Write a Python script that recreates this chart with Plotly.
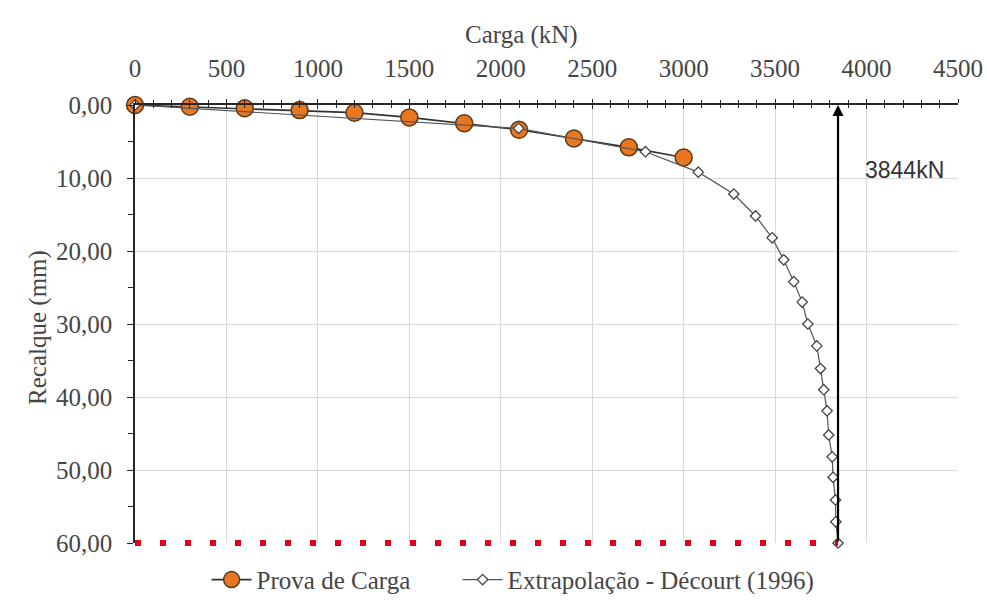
import plotly.graph_objects as go

# ---- data ----
prova_carga_kn = [0, 300, 600, 900, 1200, 1500, 1800, 2100, 2400, 2700, 3000]
prova_recalque_mm = [0, 0.25, 0.45, 0.7, 1.05, 1.7, 2.5, 3.4, 4.6, 5.8, 7.2]

decourt_carga_kn = [0, 2098, 2791, 3080, 3274, 3393, 3484, 3547, 3602, 3648, 3679,
                    3728, 3748, 3766, 3784, 3793, 3812, 3817, 3830, 3832, 3844]
decourt_recalque_mm = [0, 3.2, 6.4, 9.2, 12.2, 15.2, 18.2, 21.2, 24.2, 27.0, 30.0,
                       33.0, 36.1, 39.0, 41.9, 45.2, 48.2, 51.0, 54.1, 57.1, 60.0]

carga_ultima_kn = 3844
carga_ultima_label = "3844kN"
recalque_limite_mm = 60

x_range = [0, 4500]
y_range = [60, 0]
x_tick_vals = [0, 500, 1000, 1500, 2000, 2500, 3000, 3500, 4000, 4500]
y_tick_vals = [0, 10, 20, 30, 40, 50, 60]
y_tick_text = ["0,00", "10,00", "20,00", "30,00", "40,00", "50,00", "60,00"]

x_title = "Carga (kN)"
y_title = "Recalque (mm)"
name_prova = "Prova de Carga"
name_decourt = "Extrapolação - Décourt (1996)"

# ---- styles ----
SERIF = "Liberation Serif, Times New Roman, serif"
SANS = "Liberation Sans, Arial, sans-serif"
GREY_TXT = "#454545"
GRID = "#d9d9d9"
AXIS = "#262626"
FS = 25

fig = go.Figure()

fig.add_trace(go.Scatter(
    x=prova_carga_kn, y=prova_recalque_mm, name=name_prova,
    mode="lines+markers",
    line=dict(color="#333333", width=1.6),
    marker=dict(symbol="circle", size=17, color="#e87722",
                line=dict(color="#5a3a1a", width=1.5)),
    cliponaxis=False, legend="legend",
))

fig.add_trace(go.Scatter(
    x=decourt_carga_kn, y=decourt_recalque_mm, name=name_decourt,
    mode="lines+markers",
    line=dict(color="#555555", width=1.2),
    marker=dict(symbol="diamond", size=8, color="white",
                line=dict(color="#444444", width=1.3)),
    cliponaxis=False, legend="legend2",
))

# red dotted limit line along the bottom (paper coords so it is not clipped)
y_lim_paper = (y_range[0] - recalque_limite_mm) / (y_range[0] - y_range[1])
fig.add_shape(
    type="line", xref="paper", yref="paper", layer="above",
    x0=0, x1=carga_ultima_kn / (x_range[1] - x_range[0]),
    y0=y_lim_paper, y1=y_lim_paper,
    line=dict(color="#e2001a", width=6, dash="6px,19px"),
)

# vertical arrow at ultimate load
fig.add_annotation(
    x=carga_ultima_kn, y=0, ax=carga_ultima_kn, ay=recalque_limite_mm,
    xref="x", yref="y", axref="x", ayref="y",
    showarrow=True, arrowhead=2, arrowsize=1, arrowwidth=2.2,
    arrowcolor="black", text="", standoff=0, startstandoff=0,
)
fig.add_annotation(
    x=3978, y=8.9, xref="x", yref="y", xanchor="left", yanchor="middle",
    text=carga_ultima_label, showarrow=False,
    font=dict(family=SANS, size=23, color="#333333"),
)

# axis titles as annotations
fig.add_annotation(
    x=0.47, y=1.16, xref="paper", yref="paper", xanchor="center", yanchor="middle",
    text=x_title, showarrow=False, font=dict(family=SERIF, size=FS, color=GREY_TXT),
)
fig.add_annotation(
    x=-0.118, y=0.493, xref="paper", yref="paper", xanchor="center", yanchor="middle",
    text=y_title, textangle=-90, showarrow=False,
    font=dict(family=SERIF, size=FS, color=GREY_TXT),
)

legend_common = dict(orientation="h", xanchor="left",
                     yref="container", y=0.04, yanchor="middle",
                     font=dict(family=SERIF, size=FS, color=GREY_TXT),
                     itemwidth=40, bgcolor="rgba(0,0,0,0)")

fig.update_layout(
    width=987, height=604,
    margin=dict(l=135, r=29, t=105, b=61, autoexpand=False),
    paper_bgcolor="white", plot_bgcolor="white",
    font=dict(family=SERIF, size=FS, color=GREY_TXT),
    showlegend=True,
    legend=dict(x=0.087, **legend_common),
    legend2=dict(x=0.392, **legend_common),
    xaxis=dict(
        range=x_range, side="top", tickvals=x_tick_vals,
        showgrid=True, gridcolor=GRID, gridwidth=1,
        showline=True, linecolor=AXIS, linewidth=1.5,
        ticks="outside", ticklen=4, tickcolor=AXIS, tickwidth=1.3,
        minor=dict(dtick=100, ticks="outside", ticklen=3, tickcolor=AXIS, showgrid=False),
        ticklabelstandoff=12, zeroline=False, automargin=False,
        tickfont=dict(family=SERIF, size=FS, color=GREY_TXT),
    ),
    xaxis2=dict(
        range=x_range, overlaying="x", side="top", anchor="y",
        showgrid=False, showline=False, showticklabels=False,
        tickvals=x_tick_vals, ticks="inside", ticklen=4, tickcolor=AXIS, tickwidth=1.3,
        minor=dict(dtick=100, ticks="inside", ticklen=3, tickcolor=AXIS),
        zeroline=False,
    ),
    yaxis=dict(
        range=y_range, tickvals=y_tick_vals, ticktext=y_tick_text,
        showgrid=True, gridcolor=GRID, gridwidth=1,
        showline=True, linecolor=AXIS, linewidth=1.5,
        ticks="outside", ticklen=6, tickcolor=AXIS, tickwidth=1.3,
        minor=dict(dtick=5, ticks="outside", ticklen=5, tickcolor=AXIS, showgrid=False),
        ticklabelstandoff=10, zeroline=False, automargin=False,
        tickfont=dict(family=SERIF, size=FS, color=GREY_TXT),
    ),
)

# invisible trace so the overlaying top axis (inside ticks) is drawn
fig.add_trace(go.Scatter(x=[0], y=[0], xaxis="x2", mode="markers",
                         marker=dict(size=0.1, opacity=0), showlegend=False, hoverinfo="skip"))

fig.write_html("out.html")
